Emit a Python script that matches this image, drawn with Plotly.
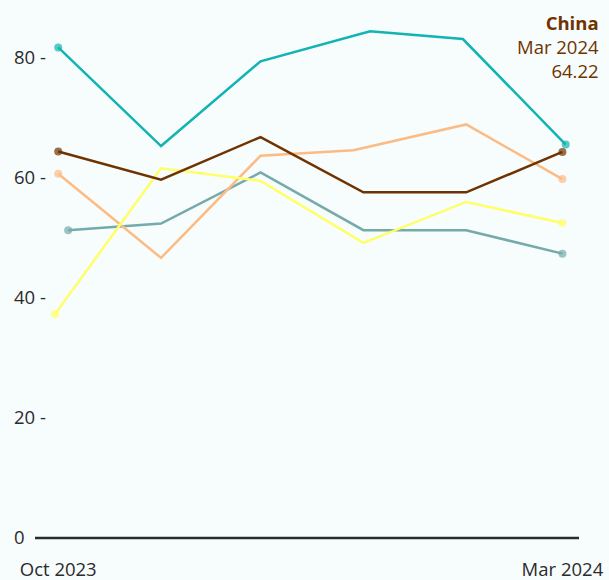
import plotly.graph_objects as go

# ---- data ----
series_names = ["Series A", "Series B", "Series C", "Series D", "China"]
series_colors = ["#75aaaa", "#12b3b3", "#fdbb84", "#ffff66", "#6e3300"]

dates_a = ["2023-10-04", "2023-11-01", "2023-12-01", "2024-01-01", "2024-02-01", "2024-03-01"]
values_a = [51.2, 52.3, 60.8, 51.2, 51.2, 47.3]

dates_b = ["2023-10-01", "2023-11-01", "2023-12-01", "2024-01-03", "2024-01-31", "2024-03-02"]
values_b = [81.6, 65.2, 79.3, 84.3, 83.0, 65.45]

dates_c = ["2023-10-01", "2023-11-01", "2023-12-01", "2023-12-29", "2024-02-01", "2024-03-01"]
values_c = [60.6, 46.6, 63.6, 64.5, 68.8, 59.7]

dates_d = ["2023-09-30", "2023-11-01", "2023-12-01", "2024-01-01", "2024-02-01", "2024-03-01"]
values_d = [37.2, 61.5, 59.4, 49.1, 55.9, 52.4]

dates_china = ["2023-10-01", "2023-11-01", "2023-12-01", "2024-01-01", "2024-02-01", "2024-03-01"]
values_china = [64.3, 59.6, 66.7, 57.5, 57.5, 64.22]

y_tick_values = [0, 20, 40, 60, 80]
y_tick_labels = ["0", "20 -", "40 -", "60 -", "80 -"]
x_tick_values = ["2023-10-01", "2024-03-01"]
x_tick_labels = ["Oct 2023", "Mar 2024"]

hover_series = "China"
hover_date_label = "Mar 2024"
hover_value = values_china[-1]

FONT = "Open Sans"
TEXT = "#2b2b2b"
BG = "#f7fcfd"

all_series = [
    (series_names[0], dates_a, values_a, series_colors[0]),
    (series_names[1], dates_b, values_b, series_colors[1]),
    (series_names[2], dates_c, values_c, series_colors[2]),
    (series_names[3], dates_d, values_d, series_colors[3]),
    (series_names[4], dates_china, values_china, series_colors[4]),
]

fig = go.Figure()
for name, xs, ys, col in all_series:
    sizes = [8 if (i == 0 or i == len(ys) - 1) else 0 for i in range(len(ys))]
    fig.add_trace(go.Scatter(
        x=xs, y=ys, name=name, mode="lines+markers",
        line=dict(color=col, width=2.5),
        marker=dict(color=col, size=sizes, line=dict(width=0)),
        showlegend=False,
    ))

# zero baseline
fig.add_shape(type="line", xref="paper", yref="y", x0=0, x1=1, y0=0, y1=0,
              line=dict(color=TEXT, width=2.5), layer="above")

# hover-style label
hover_color = series_colors[4]
fig.add_annotation(
    xref="paper", yref="paper", x=1.0406, y=1, xanchor="right", yanchor="top",
    yshift=1, align="right", showarrow=False,
    text=f"<b>{hover_series}</b><br>{hover_date_label}<br>{hover_value:.2f}",
    font=dict(family=FONT, size=18.5, color=hover_color),
)

fig.update_layout(
    width=609, height=580,
    margin=dict(l=35, r=30, t=9, b=36, autoexpand=False),
    paper_bgcolor=BG, plot_bgcolor=BG,
    font=dict(family=FONT, size=18.5, color=TEXT),
    xaxis=dict(
        type="date", range=["2023-09-24", "2024-03-06"],
        tickvals=x_tick_values, ticktext=x_tick_labels,
        showgrid=False, zeroline=False, showline=False, ticks="",
        ticklabelstandoff=12, automargin=False,
        tickfont=dict(family=FONT, size=18.5, color=TEXT),
    ),
    yaxis=dict(
        range=[-1, 88], tickvals=y_tick_values, ticktext=y_tick_labels,
        showgrid=False, zeroline=False, showline=False, ticks="",
        ticklabelposition="inside", ticklabelstandoff=-24,
        ticklabeloverflow="allow", automargin=False,
        tickfont=dict(family=FONT, size=18.5, color=TEXT),
    ),
)

fig.write_html(
    "out.html",
    config={"displayModeBar": False},
    post_script="document.body.style.margin='0';document.body.style.background='" + BG + "';",
)
